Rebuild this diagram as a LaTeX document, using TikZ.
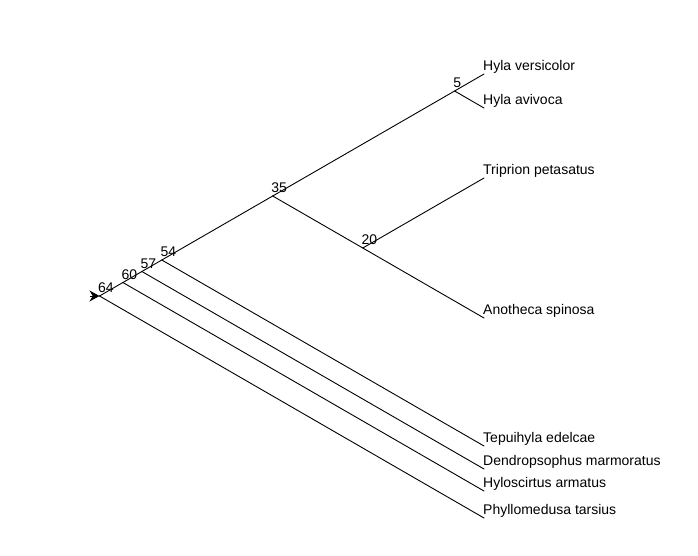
\documentclass[tikz,border=0pt]{standalone}
\usepackage{fontspec}
\setmainfont{Liberation Sans}
\usetikzlibrary{arrows.meta}
\tikzset{%
  branch/.style = {draw,line width=0.9pt,line cap=round},
  rootarrow/.style = {-{Stealth[length=10pt,width=11pt]},line width=0.9pt},
  taxon/.style = {anchor=base west,inner sep=0pt,xshift=-1pt,yshift=4pt},
  clade/.style = {anchor=base west,inner sep=0pt,xshift=-1.5pt,yshift=3.5pt}
}

\begin{document}
\begin{tikzpicture}[x=1pt,y=-1pt]\fontsize{14}{16}\selectfont
   \useasboundingbox (0,0) rectangle (698,555);
   % tips
   \coordinate (hver) at (484,74);
   \coordinate (havi) at (484,108);
   \coordinate (tpet) at (484,178);
   \coordinate (aspi) at (484,318);
   \coordinate (tede) at (484,446);
   \coordinate (dmar) at (484,469);
   \coordinate (harm) at (484,491);
   \coordinate (ptar) at (484,518);
   % inner nodes
   \coordinate (n5) at (454.6,91);
   \coordinate (n20) at (362.8,248);
   \coordinate (n35) at (272.7,196);
   \coordinate (n54) at (161.8,260);
   \coordinate (n57) at (141.9,271.5);
   \coordinate (n60) at (122.9,282.5);
   \coordinate (n64) at (99.5,296);
   \coordinate (rootstub) at (89.5,296);

   \node[taxon] (l-hver) at (hver) {Hyla versicolor};
   \node[taxon] (l-havi) at (havi) {Hyla avivoca};
   \node[taxon] (l-tpet) at (tpet) {Triprion petasatus};
   \node[taxon] (l-aspi) at (aspi) {Anotheca spinosa};
   \node[taxon] (l-tede) at (tede) {Tepuihyla edelcae};
   \node[taxon] (l-dmar) at (dmar) {Dendropsophus marmoratus};
   \node[taxon] (l-harm) at (harm) {Hyloscirtus armatus};
   \node[taxon] (l-ptar) at (ptar) {Phyllomedusa tarsius};

   \node[clade] (c5) at (n5) {5};
   \node[clade] (c20) at (n20) {20};
   \node[clade] (c35) at (n35) {35};
   \node[clade] (c54) at (n54) {54};
   \node[clade] (c57) at (n57) {57};
   \node[clade] (c60) at (n60) {60};
   \node[clade] (c64) at (n64) {64};

   \draw[rootarrow] (rootstub) -- (n64);

   \draw[branch] (n64) -- (n60);
   \draw[branch] (n60) -- (n57);
   \draw[branch] (n57) -- (n54);
   \draw[branch] (n54) -- (n35);
   \draw[branch] (n35) -- (n5);
   \draw[branch] (n5) -- (hver);

   \draw[branch] (n5) -- (havi);
   \draw[branch] (n35) -- (n20);
   \draw[branch] (n20) -- (tpet);
   \draw[branch] (n20) -- (aspi);
   \draw[branch] (n54) -- (tede);
   \draw[branch] (n57) -- (dmar);
   \draw[branch] (n60) -- (harm);
   \draw[branch] (n64) -- (ptar);
\end{tikzpicture}
\end{document}
